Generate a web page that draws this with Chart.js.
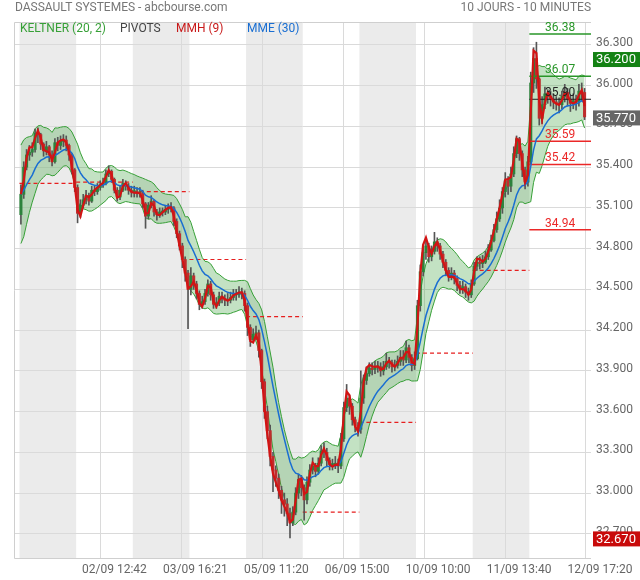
<!DOCTYPE html>
<html>
<head>
<meta charset="utf-8">
<title>Dassault Systemes - 10 jours</title>
<script src="https://cdn.jsdelivr.net/npm/chart.js@4.4.1/dist/chart.umd.min.js"></script>
<style>
  html, body { margin: 0; padding: 0; background: #fff; }
  #chart { display: block; }
</style>
</head>
<body>
<canvas id="chart" width="640" height="580"></canvas>
<script>
// prices, 20 bars per session (one line = one day)
const firstOpen = 35.05;
const closes = [
  35.20, 35.40, 35.49, 35.51, 35.53, 35.65, 35.64, 35.57, 35.52, 35.55, 35.49, 35.44, 35.58, 35.56, 35.59, 35.60, 35.56, 35.49, 35.38, 35.25,
  35.06, 35.12, 35.16, 35.19, 35.15, 35.23, 35.22, 35.25, 35.27, 35.28, 35.35, 35.37, 35.31, 35.23, 35.18, 35.23, 35.28, 35.26, 35.23, 35.22,
  35.22, 35.21, 35.21, 35.13, 35.04, 35.12, 35.15, 35.07, 35.05, 35.07, 35.07, 35.09, 35.10, 35.10, 35.00, 34.91, 34.82, 34.72, 34.62, 34.50,
  34.60, 34.54, 34.47, 34.39, 34.41, 34.47, 34.54, 34.46, 34.39, 34.40, 34.45, 34.43, 34.42, 34.42, 34.44, 34.46, 34.46, 34.48, 34.47, 34.38,
  34.22, 34.13, 34.17, 34.18, 34.05, 33.82, 33.60, 33.46, 33.27, 33.17, 33.11, 33.02, 32.95, 32.92, 32.85, 32.78, 32.86, 33.00, 33.10, 33.04,
  32.95, 33.08, 33.17, 33.20, 33.16, 33.22, 33.31, 33.30, 33.24, 33.21, 33.21, 33.22, 33.20, 33.40, 33.63, 33.70, 33.64, 33.54, 33.50, 33.47,
  33.70, 33.83, 33.88, 33.92, 33.91, 33.93, 33.93, 33.90, 33.93, 33.97, 33.96, 33.93, 33.94, 33.97, 34.00, 33.98, 34.07, 34.00, 33.94, 33.99,
  34.38, 34.63, 34.77, 34.82, 34.74, 34.78, 34.85, 34.82, 34.76, 34.70, 34.64, 34.60, 34.62, 34.58, 34.53, 34.51, 34.52, 34.48, 34.46, 34.54,
  34.67, 34.70, 34.69, 34.70, 34.74, 34.79, 34.86, 34.94, 35.02, 35.10, 35.22, 35.30, 35.26, 35.35, 35.50, 35.61, 35.50, 35.38, 35.29, 35.44,
  36.02, 36.20, 36.05, 35.76, 35.86, 35.94, 35.92, 35.90, 35.88, 35.87, 35.86, 35.92, 35.95, 35.90, 35.87, 35.89, 35.88, 35.96, 35.95, 35.77
];
const highs = [
  35.27, 35.44, 35.53, 35.56, 35.58, 35.68, 35.69, 35.65, 35.58, 35.59, 35.56, 35.52, 35.61, 35.62, 35.63, 35.64, 35.63, 35.57, 35.50, 35.39,
  35.27, 35.16, 35.20, 35.23, 35.21, 35.26, 35.26, 35.28, 35.30, 35.32, 35.38, 35.41, 35.38, 35.32, 35.25, 35.26, 35.31, 35.30, 35.28, 35.26,
  35.26, 35.25, 35.25, 35.23, 35.14, 35.14, 35.19, 35.16, 35.09, 35.10, 35.10, 35.12, 35.13, 35.14, 35.11, 35.02, 34.93, 34.84, 34.74, 34.64,
  34.66, 34.62, 34.56, 34.49, 34.45, 34.50, 34.57, 34.56, 34.48, 34.44, 34.48, 34.48, 34.46, 34.47, 34.48, 34.50, 34.50, 34.52, 34.51, 34.49,
  34.40, 34.24, 34.21, 34.23, 34.20, 34.06, 33.84, 33.64, 33.50, 33.30, 33.20, 33.14, 33.05, 33.00, 32.96, 32.89, 32.90, 33.04, 33.14, 33.13,
  33.06, 33.12, 33.21, 33.26, 33.22, 33.26, 33.35, 33.37, 33.33, 33.26, 33.25, 33.27, 33.25, 33.44, 33.67, 33.80, 33.72, 33.66, 33.56, 33.52,
  33.90, 33.87, 33.93, 33.96, 33.96, 33.97, 33.97, 33.96, 33.97, 34.03, 34.00, 33.98, 33.98, 34.01, 34.05, 34.05, 34.12, 34.09, 34.02, 34.04,
  34.42, 34.68, 34.82, 34.86, 34.84, 34.82, 34.92, 34.88, 34.84, 34.78, 34.72, 34.66, 34.66, 34.64, 34.60, 34.56, 34.56, 34.54, 34.51, 34.57,
  34.70, 34.74, 34.74, 34.75, 34.78, 34.83, 34.90, 34.98, 35.07, 35.16, 35.25, 35.36, 35.33, 35.40, 35.55, 35.63, 35.62, 35.52, 35.40, 35.48,
  36.10, 36.28, 36.32, 36.06, 35.92, 35.99, 35.97, 35.96, 35.94, 35.92, 35.91, 35.96, 36.01, 35.98, 35.93, 35.94, 35.93, 36.01, 36.02, 35.98
];
const lows = [
  34.98, 35.17, 35.38, 35.45, 35.48, 35.51, 35.58, 35.53, 35.48, 35.49, 35.44, 35.41, 35.43, 35.52, 35.53, 35.55, 35.52, 35.45, 35.35, 35.22,
  34.99, 35.03, 35.10, 35.13, 35.12, 35.14, 35.19, 35.20, 35.23, 35.25, 35.27, 35.33, 35.29, 35.21, 35.15, 35.16, 35.22, 35.23, 35.20, 35.18,
  35.18, 35.18, 35.18, 35.10, 34.95, 35.02, 35.10, 35.04, 35.01, 35.03, 35.04, 35.05, 35.06, 35.07, 34.97, 34.88, 34.79, 34.66, 34.56, 34.21,
  34.46, 34.50, 34.43, 34.35, 34.36, 34.39, 34.45, 34.42, 34.36, 34.36, 34.38, 34.40, 34.38, 34.38, 34.40, 34.42, 34.42, 34.44, 34.43, 34.34,
  34.16, 34.08, 34.11, 34.13, 34.00, 33.77, 33.55, 33.40, 33.20, 33.01, 33.05, 32.96, 32.85, 32.83, 32.76, 32.67, 32.76, 32.84, 32.96, 32.98,
  32.80, 32.92, 33.05, 33.14, 33.12, 33.14, 33.20, 33.26, 33.20, 33.17, 33.17, 33.18, 33.15, 33.18, 33.38, 33.60, 33.58, 33.50, 33.45, 33.42,
  33.44, 33.66, 33.80, 33.86, 33.87, 33.88, 33.89, 33.86, 33.87, 33.91, 33.92, 33.89, 33.90, 33.92, 33.94, 33.94, 33.96, 33.96, 33.90, 33.91,
  33.98, 34.34, 34.60, 34.72, 34.70, 34.71, 34.76, 34.78, 34.72, 34.66, 34.60, 34.56, 34.57, 34.54, 34.49, 34.47, 34.47, 34.44, 34.42, 34.44,
  34.53, 34.64, 34.65, 34.66, 34.69, 34.72, 34.78, 34.85, 34.92, 35.00, 35.06, 35.18, 35.20, 35.22, 35.33, 35.47, 35.45, 35.33, 35.24, 35.26,
  35.42, 35.95, 35.98, 35.71, 35.72, 35.83, 35.87, 35.85, 35.83, 35.82, 35.80, 35.83, 35.88, 35.85, 35.81, 35.83, 35.82, 35.85, 35.89, 35.75
];
// daily pivot of each past session, then today's levels (R2, R1, P, S1, S2, S3)
const dayPivots = [35.28, 35.29, 35.22, 34.72, 34.30, 32.86, 33.52, 34.03, 34.64];
const todayPivots = [36.38, 36.07, 35.90, 35.59, 35.42, 34.94];
const xTickLabels = ["02/09 12:42", "03/09 16:21", "05/09 11:20", "06/09 15:00", "10/09 10:00", "11/09 13:40", "12/09 17:20"];
const yTickValues = [32.7, 33.0, 33.3, 33.6, 33.9, 34.2, 34.5, 34.8, 35.1, 35.4, 35.7, 36.0, 36.3];

const perDay = 20;
const n = closes.length;
const days = n / perDay;
// indicator periods are given for 10 min bars, scale them to our 20 bars/day
const barScale = perDay / 51;
const keltnerLen = Math.round(20 * barScale);
const bandMult = 1.25;
const mmhLen = Math.round(9 * barScale);
const mmeLen = Math.round(30 * barScale);

const opens = closes.map((c, i) => (i === 0 ? firstOpen : closes[i - 1]));

function ema(values, len) {
  const k = 2 / (len + 1);
  const out = [];
  values.forEach((v, i) => out.push(i === 0 ? v : out[i - 1] + k * (v - out[i - 1])));
  return out;
}
function wma(values, len) {
  return values.map((v, i) => {
    let s = 0, w = 0;
    for (let j = 0; j < len && i - j >= 0; j++) {
      s += values[i - j] * (len - j);
      w += len - j;
    }
    return s / w;
  });
}
function hull(values, len) {
  const half = wma(values, Math.round(len / 2));
  const full = wma(values, len);
  return wma(half.map((h, i) => 2 * h - full[i]), Math.round(Math.sqrt(len)));
}

const trueRange = highs.map((h, i) => {
  const pc = opens[i];
  return Math.max(h - lows[i], Math.abs(h - pc), Math.abs(lows[i] - pc));
});
const mid = ema(closes, keltnerLen);
const atr = ema(trueRange, keltnerLen);
const upper = mid.map((m, i) => m + bandMult * atr[i]);
const lower = mid.map((m, i) => m - bandMult * atr[i]);
const mmh = hull(closes, mmhLen);
const mme = ema(closes, mmeLen);

const pts = arr => arr.map((v, i) => ({ x: i, y: v }));

// x range: a little margin before the first and after the last session
const xMin = -0.5 - 1.94;
const xMax = n - 0.5 + 1.77;
const xTickPos = xTickLabels.map((_, k) => (n * (k + 1)) / 7 - 0.5);

const pivotPts = [];
dayPivots.forEach((p, d) => {
  pivotPts.push({ x: d * perDay - 0.5, y: p }, { x: (d + 1) * perDay - 0.5, y: p }, { x: (d + 1) * perDay - 0.5, y: null });
});
const todayStart = (days - 1) * perDay - 0.5;
const todayColors = ["rgb(40,150,40)", "rgb(40,150,40)", "#222", "rgb(235,40,40)", "rgb(235,40,40)", "rgb(235,40,40)"];

const GREEN = "rgb(55,160,55)";
const font = "Roboto";
Chart.defaults.font.family = font;

const decor = {
  id: "decor",
  beforeDraw(chart) {
    const { ctx, chartArea: a, scales: { x } } = chart;
    ctx.save();
    ctx.fillStyle = "#ebebeb";
    for (let d = 0; d < days; d += 2) {
      const x0 = x.getPixelForValue(d * perDay - 0.5);
      const x1 = x.getPixelForValue((d + 1) * perDay - 0.5);
      ctx.fillRect(x0, a.top, x1 - x0, a.bottom - a.top);
    }
    ctx.restore();
  },
  beforeDatasetsDraw(chart) {
    const { ctx, chartArea: a } = chart;
    ctx.save();
    ctx.strokeStyle = "#cfcfcf";
    ctx.lineWidth = 1;
    ctx.beginPath();
    ctx.moveTo(a.right, a.top + 0.5);
    ctx.lineTo(a.left + 0.5, a.top + 0.5);
    ctx.lineTo(a.left + 0.5, a.bottom + 0.5);
    ctx.lineTo(a.right, a.bottom + 0.5);
    ctx.stroke();
    ctx.restore();
  },
  afterDraw(chart) {
    const { ctx, chartArea: a, scales: { x, y } } = chart;
    ctx.save();
    ctx.font = "12px " + font;
    ctx.textBaseline = "middle";
    // header
    ctx.fillStyle = "#777";
    ctx.textAlign = "left";
    ctx.fillText("DASSAULT SYSTEMES - abcbourse.com", 15, 8);
    ctx.textAlign = "right";
    ctx.fillText("10 JOURS - 10 MINUTES", a.right, 8);
    // legend
    ctx.textAlign = "left";
    const legend = [["KELTNER (20, 2)", GREEN, 20], ["PIVOTS", "#444", 120], ["MMH (9)", "rgb(200,25,25)", 176], ["MME (30)", "rgb(25,110,210)", 247]];
    legend.forEach(([t, c, lx]) => {
      ctx.fillStyle = c;
      ctx.fillText(t, lx, 29);
    });
    // today's pivot values
    ctx.textAlign = "center";
    ctx.textBaseline = "alphabetic";
    const cx = (x.getPixelForValue(todayStart) + a.right) / 2;
    todayPivots.forEach((p, i) => {
      ctx.fillStyle = todayColors[i];
      ctx.fillText(p.toFixed(2), cx, y.getPixelForValue(p) - 3);
    });
    // price tags on the right axis
    const tags = [
      [Math.max(...closes), "rgb(20,130,20)"],
      [closes[n - 1], "#666"],
      [Math.min(...lows), "rgb(200,10,10)"],
    ];
    ctx.textAlign = "left";
    ctx.textBaseline = "middle";
    tags.forEach(([v, bg]) => {
      const ty = Math.min(y.getPixelForValue(v) + 1, a.bottom + 10);
      ctx.fillStyle = bg;
      ctx.fillRect(a.right + 2, ty - 7.5, chart.width - a.right - 2, 15);
      ctx.fillStyle = "#fff";
      ctx.font = "13px " + font;
      ctx.fillText(v.toFixed(3), a.right + 5, ty + 0.5);
    });
    ctx.restore();
  },
};

const datasets = [
  { type: "line", data: pts(mmh), borderColor: "rgb(210,20,20)", borderWidth: 2.2, pointRadius: 0, order: 1 },
  { type: "line", data: pts(mme), borderColor: "rgb(25,110,210)", borderWidth: 1.5, pointRadius: 0, order: 2 },
  ...todayPivots.map((p, i) => ({
    type: "line",
    data: [{ x: todayStart, y: p }, { x: xMax, y: p }],
    borderColor: todayColors[i],
    borderWidth: i === 2 ? 1 : 1.5,
    pointRadius: 0,
    order: 5,
  })),
  {
    type: "bar",
    data: closes.map((c, i) => ({ x: i, y: [opens[i], c] })),
    backgroundColor: closes.map((c, i) => (c >= opens[i] ? "rgb(45,130,60)" : "rgb(190,45,45)")),
    barThickness: 2.4,
    minBarLength: 1,
    grouped: false,
    order: 7,
  },
  {
    type: "bar",
    data: highs.map((h, i) => ({ x: i, y: [lows[i], h] })),
    backgroundColor: "#555",
    barThickness: 1,
    grouped: false,
    order: 8,
  },
  { type: "line", data: pivotPts, borderColor: "rgb(230,30,30)", borderWidth: 1.2, borderDash: [4, 3], pointRadius: 0, spanGaps: false, order: 9 },
  { type: "line", data: pts(upper), borderColor: GREEN, borderWidth: 1, pointRadius: 0, fill: "+1", backgroundColor: "rgba(55,160,55,0.3)", order: 10 },
  { type: "line", data: pts(lower), borderColor: GREEN, borderWidth: 1, pointRadius: 0, order: 11 },
];

new Chart("chart", {
  type: "line",
  data: { datasets },
  plugins: [decor],
  options: {
    responsive: false,
    animation: false,
    devicePixelRatio: 1,
    layout: { padding: { top: 22, left: 14, right: 0, bottom: 0 } },
    plugins: { legend: { display: false }, tooltip: { enabled: false } },
    scales: {
      x: {
        type: "linear",
        min: xMin,
        max: xMax,
        offset: false,
        afterBuildTicks: s => { s.ticks = xTickPos.map(v => ({ value: v })); },
        afterFit: s => { s.height = 22; },
        border: { display: false },
        grid: { color: "#dadada", drawTicks: false, offset: false },
        ticks: {
          autoSkip: false,
          maxRotation: 0,
          padding: 5,
          labelOffset: 14,
          color: "#666",
          font: { size: 12 },
          callback: (v, i) => xTickLabels[i],
        },
      },
      y: {
        position: "right",
        min: 32.522,
        max: 36.469,
        afterBuildTicks: s => { s.ticks = yTickValues.map(v => ({ value: v })); },
        afterFit: s => { s.width = 49; },
        border: { display: false },
        grid: { color: "#dadada", drawTicks: false },
        ticks: {
          padding: 5,
          labelOffset: -2,
          color: "#666",
          font: { size: 12 },
          callback: v => v.toFixed(3),
        },
      },
    },
  },
});
</script>
</body>
</html>
